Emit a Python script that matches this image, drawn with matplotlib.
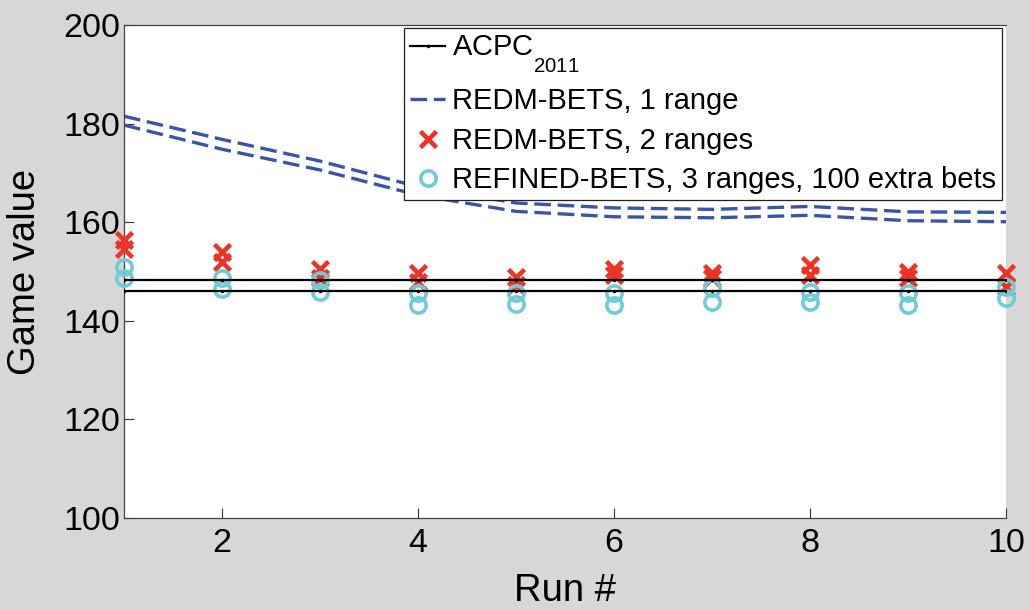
import matplotlib
matplotlib.use("Agg")
import matplotlib.pyplot as plt
import numpy as np

plt.rcParams['font.family'] = ['Liberation Sans', 'DejaVu Sans']
plt.rcParams['mathtext.fontset'] = 'custom'
plt.rcParams['mathtext.rm'] = 'Liberation Sans'
plt.rcParams['mathtext.default'] = 'regular'

# Drop subscripts lower than the mathtext default
try:
    import matplotlib._mathtext as _mt
    _mt.FontConstantsBase.sub1 = 1.1
    _mt.FontConstantsBase.sub2 = 1.2
except Exception:
    pass

runs = np.arange(1, 11)

# ACPC 2011 reference band (two constant bounds)
acpc_upper = [148.3] * 10
acpc_lower = [146.0] * 10

# REDM-BETS, 1 range (upper / lower bound)
redm1_upper = [181.5, 176.8, 172.4, 167.2, 163.9, 162.9, 162.6, 163.2, 162.1, 162.0]
redm1_lower = [179.7, 174.8, 170.6, 165.5, 162.2, 161.1, 160.9, 161.4, 160.3, 160.1]

# REDM-BETS, 2 ranges (upper / lower bound)
redm2_upper = [156.4, 154.0, 150.6, 149.7, 148.9, 150.6, 149.6, 151.3, 150.0, 149.6]
redm2_lower = [154.5, 152.0, 148.6, 147.9, 147.3, 149.3, 148.6, 149.3, 148.6, 146.9]

# REFINED-BETS, 3 ranges, 100 extra bets (upper / lower bound)
refined_upper = [151.0, 148.7, 148.3, 145.6, 145.6, 145.6, 146.6, 145.9, 145.6, 146.9]
refined_lower = [148.7, 146.5, 145.9, 143.2, 143.5, 143.2, 143.9, 143.9, 143.2, 144.6]

bg = '#d6d7d6'
blue = '#3a55a8'
red = '#ee3324'
cyan = '#70cbd8'

fig = plt.figure(figsize=(10.30, 6.10), dpi=100, facecolor=bg)
ax = fig.add_axes([0.1204, 0.1508, 0.8563, 0.8082])
ax.set_facecolor('white')

dash = (0, (5.0, 2.0))
ax.plot(runs, redm1_upper, color=blue, lw=2.4, ls=dash, zorder=2,
        label='REDM-BETS, 1 range')
ax.plot(runs, redm1_lower, color=blue, lw=2.4, ls=dash, zorder=2)

ax.plot(runs, redm2_upper, ls='none', marker='x', ms=12, mew=3.3, color=red,
        zorder=3, clip_on=False, label='REDM-BETS, 2 ranges')
ax.plot(runs, redm2_lower, ls='none', marker='x', ms=12, mew=3.3, color=red,
        zorder=3, clip_on=False)

ax.plot(runs, refined_upper, ls='none', marker='o', ms=11, mew=2.6, mfc='none',
        mec=cyan, zorder=4, clip_on=False,
        label='REFINED-BETS, 3 ranges, 100 extra bets')
ax.plot(runs, refined_lower, ls='none', marker='o', ms=11, mew=2.6, mfc='none',
        mec=cyan, zorder=4, clip_on=False)

ax.plot(runs, acpc_upper, color='black', lw=1.6, marker='.', ms=3, zorder=5,
        label='ACPC$_{2011}$')
ax.plot(runs, acpc_lower, color='black', lw=1.6, marker='.', ms=3, zorder=5)

ax.set_xlim(1, 10)
ax.set_ylim(100, 200)
ax.set_xticks([2, 4, 6, 8, 10])
ax.set_yticks([100, 120, 140, 160, 180, 200])
ax.tick_params(direction='in', length=7, width=0.8, color='#333333',
               labelsize=24.5)
ax.tick_params(axis='y', pad=3)
ax.tick_params(axis='x', pad=7)

for side in ['left', 'bottom', 'top']:
    ax.spines[side].set_color('#444444')
    ax.spines[side].set_linewidth(0.9)
ax.spines['right'].set_visible(False)

ax.set_xlabel('Run #', fontsize=27.5)
ax.xaxis.set_label_coords(0.5, -0.112)
ax.set_ylabel('Game value', fontsize=27.5)
ax.yaxis.set_label_coords(-0.112, 0.5)
ax.yaxis.label.set_va('center')

handles, labels = ax.get_legend_handles_labels()
order = [3, 0, 1, 2]
leg = ax.legend([handles[i] for i in order], [labels[i] for i in order],
                loc='upper right', bbox_to_anchor=(0.9955, 0.994),
                borderaxespad=0, fontsize=21, numpoints=1,
                handlelength=1.2, handletextpad=0.24, borderpad=0.2,
                labelspacing=0.4, fancybox=False, framealpha=1,
                edgecolor='#222222')
leg.get_frame().set_linewidth(0.9)
leg.set_zorder(10)

fig.savefig('out.png', dpi=100, facecolor=bg)
